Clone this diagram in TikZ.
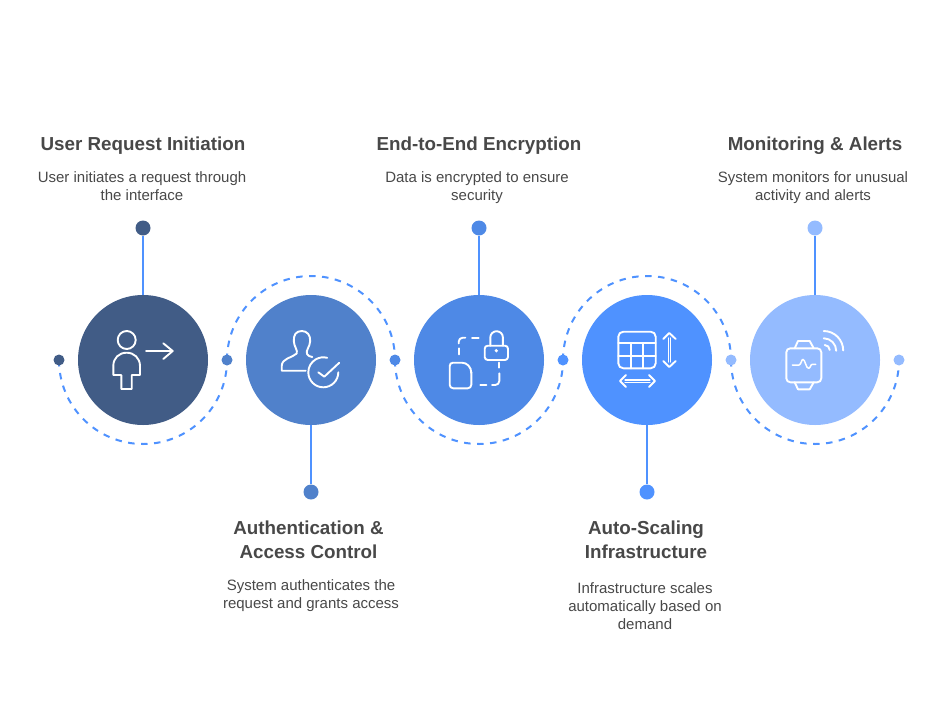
\documentclass[tikz,border=0pt]{standalone}
\usepackage{fontspec}
\setmainfont{Liberation Sans}
\definecolor{cA}{HTML}{415C86}
\definecolor{cB}{HTML}{5081CB}
\definecolor{cC}{HTML}{4E89E6}
\definecolor{cD}{HTML}{4F92FF}
\definecolor{cE}{HTML}{94BBFF}
\definecolor{ink}{HTML}{484848}
\tikzset{
  x=1pt,y=-1pt,
  disc/.style={circle,inner sep=0pt,minimum size=130pt,fill=#1},
  bigdot/.style={circle,inner sep=0pt,minimum size=15pt,fill=#1},
  smalldot/.style={circle,inner sep=0pt,minimum size=11pt,fill=#1},
  stem/.style={draw=cD,line width=2.2pt},
  wave/.style={draw=cD,line width=2pt,dash pattern=on 6.5pt off 6.5pt},
  icon/.style={draw=white,line width=1.9pt,line join=round,line cap=round},
  title/.style={text=ink,align=center,font=\fontsize{18.8}{24}\selectfont\bfseries,inner sep=0pt},
  desc/.style={text=ink,align=center,font=\fontsize{15}{18}\selectfont,inner sep=0pt}
}
\begin{document}
\begin{tikzpicture}
\useasboundingbox (0,0) rectangle (939,720);
% dashed waves
\coordinate (w1) at (59,360);
\coordinate (w2) at (227,360);
\coordinate (w3) at (395,360);
\coordinate (w4) at (563,360);
\coordinate (w5) at (731,360);
\draw[wave] (w1) arc[start angle=180,end angle=360,radius=84pt];
\draw[wave] (w2) arc[start angle=180,end angle=0,radius=84pt];
\draw[wave] (w3) arc[start angle=180,end angle=360,radius=84pt];
\draw[wave] (w4) arc[start angle=180,end angle=0,radius=84pt];
\draw[wave] (w5) arc[start angle=180,end angle=360,radius=84pt];
% discs
\node[disc=cA] (c1) at (143,360) {};
\node[disc=cB] (c2) at (311,360) {};
\node[disc=cC] (c3) at (479,360) {};
\node[disc=cD] (c4) at (647,360) {};
\node[disc=cE] (c5) at (815,360) {};
% big dots
\node[bigdot=cA] (d1) at (143,228) {};
\node[bigdot=cB] (d2) at (311,492) {};
\node[bigdot=cC] (d3) at (479,228) {};
\node[bigdot=cD] (d4) at (647,492) {};
\node[bigdot=cE] (d5) at (815,228) {};
% stems
\draw[stem] (c1) -- (d1);
\draw[stem] (c2) -- (d2);
\draw[stem] (c3) -- (d3);
\draw[stem] (c4) -- (d4);
\draw[stem] (c5) -- (d5);
% small dots
\node[smalldot=cA] (s1) at (59,360) {};
\node[smalldot=cB] (s2) at (227,360) {};
\node[smalldot=cC] (s3) at (395,360) {};
\node[smalldot=cD] (s4) at (563,360) {};
\node[smalldot=cE] (s5) at (731,360) {};
\node[smalldot=cE] (s6) at (899,360) {};
% texts
\node[title] (t1) at (143,146) {\strut User Request Initiation};
\node[desc] (p1) at (142,187.4) {\strut User initiates a request through\\\strut the interface};
\node[title] (t2) at (308.5,542) {\strut Authentication \&\\\strut Access Control};
\node[desc] (p2) at (311,595.4) {\strut System authenticates the\\\strut request and grants access};
\node[title] (t3) at (479,146) {\strut End-to-End Encryption};
\node[desc] (p3) at (477,187.4) {\strut Data is encrypted to ensure\\\strut security};
\node[title] (t4) at (646,542) {\strut Auto-Scaling\\\strut Infrastructure};
\node[desc] (p4) at (645,607.4) {\strut Infrastructure scales\\\strut automatically based on\\\strut demand};
\node[title] (t5) at (815,146) {\strut Monitoring \& Alerts};
\node[desc] (p5) at (813,187.4) {\strut System monitors for unusual\\\strut activity and alerts};
% icon 1: person with arrow
\draw[icon] (126.7,340) circle[radius=9pt];
\draw[icon] (121.3,375) -- (121.3,389) -- (131.7,389) -- (131.7,375) -- (140,375) -- (140,366)
  .. controls (140,358) and (134,352.7) .. (126.7,352.7)
  .. controls (119,352.7) and (113.3,358) .. (113.3,366) -- (113.3,375) -- cycle;
\draw[icon] (146,351) -- (172.7,351) (163.3,343.3) -- (172.7,351) -- (163.3,359);
% icon 2: user with check
\draw[icon] (305.7,370.7) -- (281.7,370.7) -- (281.7,366)
  .. controls (282,358) and (292,358) .. (296.7,353.5)
  .. controls (298,350) and (294,347) .. (293.8,341)
  .. controls (293.5,335) and (296,331) .. (301.7,331)
  .. controls (307,331) and (310.5,335) .. (310.2,341)
  .. controls (310,347) and (305.5,350) .. (307,354)
  .. controls (308,356) and (310,356.5) .. (312.3,357);
\draw[icon] (338.3,372.3) arc[start angle=0,end angle=-285,radius=15pt];
\draw[icon] (318.3,372.3) -- (324.3,376.7) -- (339.3,362.7);
% icon 3: lock and document
\draw[icon,rounded corners=3pt] (484.7,345.7) rectangle (508,360);
\draw[icon] (490.3,345.7) -- (490.3,337.5) arc[start angle=180,end angle=0,radius=6.3pt] -- (502.9,345.7);
\fill[white] (496.3,350.7) circle[radius=1.8pt];
\draw[icon,rounded corners=4pt] (458.7,343.5) -- (458.7,337.7) -- (465.3,337.7);
\draw[icon] (472,337.7) -- (478.7,337.7) (458.7,348.3) -- (458.7,354.3);
\draw[icon,rounded corners=4pt] (499.3,373.3) -- (499.3,385) -- (492,385);
\draw[icon] (499.3,367.7) -- (499.3,362.5) (480.3,385) -- (486.3,385);
\draw[icon,rounded corners=3.5pt] (449.7,366) -- (449.7,388.3) -- (471.3,388.3) -- (471.3,372);
\draw[icon] (471.3,373) .. controls (471.3,367) and (467,362.7) .. (462,362.7) -- (453,362.7) .. controls (451,362.7) and (449.7,364) .. (449.7,366);
% icon 4: table and arrows
\draw[icon,rounded corners=5pt] (618.3,331.7) rectangle (655.7,368.3);
\draw[icon] (618.3,343.3) -- (655.7,343.3) (618.3,355.7) -- (655.7,355.7)
  (630.7,343.3) -- (630.7,368.3) (643.3,343.3) -- (643.3,368.3);
\draw[icon,line width=1.2pt] (668.2,338) -- (668.2,362) (670.4,338) -- (670.4,362);
\draw[icon] (663.3,339) -- (669.3,333) -- (675.7,339) (663.3,361) -- (669.3,367) -- (675.7,361);
\draw[icon,line width=1.2pt] (625,379.9) -- (650,379.9) (625,382.1) -- (650,382.1);
\draw[icon] (626,375) -- (620,381) -- (626,387) (649,375) -- (655,381) -- (649,387);
% icon 5: smart watch
\draw[icon,rounded corners=4pt] (786.3,348.3) rectangle (821.3,382.3);
\draw[icon] (794.7,348.3) -- (798,341) -- (809.7,341) -- (813.7,348.3);
\draw[icon] (794.7,382.3) -- (798,389.3) -- (809.7,389.3) -- (813.7,382.3);
\draw[icon,line width=1.5pt] (792.3,365) -- (799,365) .. controls (801,365) and (801.5,359.3) .. (803,359.3)
  .. controls (805,359.3) and (806,368.3) .. (808.5,368.3)
  .. controls (810.5,368.3) and (810.5,364.3) .. (812.3,364.3) -- (815.7,364.3);
\draw[icon] (823.7,331) arc[start angle=90,end angle=0,radius=19.5pt];
\draw[icon] (823.7,338.3) arc[start angle=90,end angle=0,radius=12.5pt];
\draw[icon] (824.7,345) arc[start angle=90,end angle=0,radius=5pt];
\end{tikzpicture}
\end{document}
